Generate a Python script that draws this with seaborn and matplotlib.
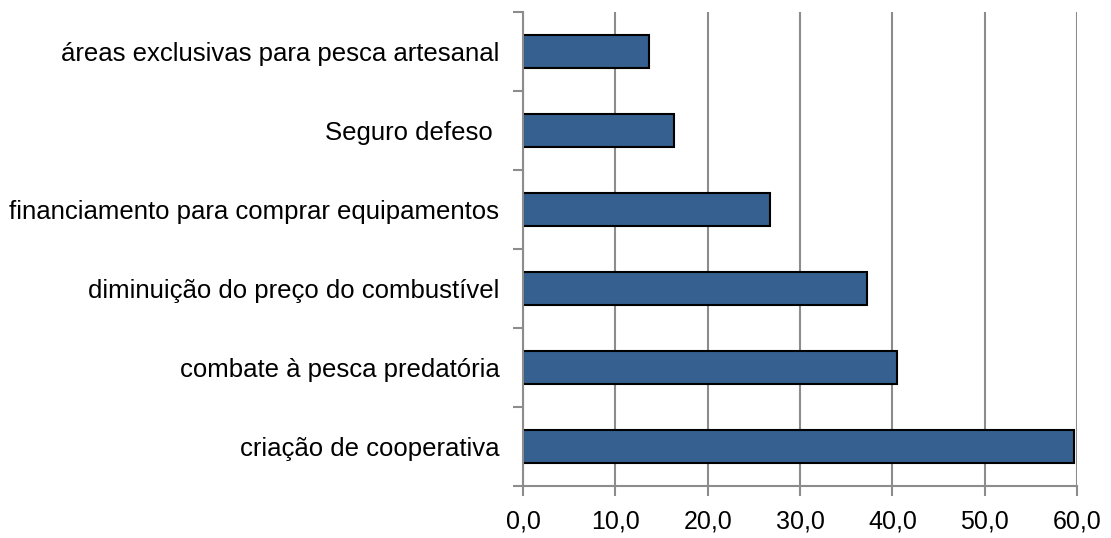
import matplotlib
matplotlib.use("Agg")
import matplotlib.pyplot as plt
import seaborn as sns
import pandas as pd
import numpy as np

categories = [
    "áreas exclusivas para pesca artesanal",
    "Seguro defeso ",
    "financiamento para comprar equipamentos",
    "diminuição do preço do combustível",
    "combate à pesca predatória",
    "criação de cooperativa",
]
values = [13.7, 16.4, 26.8, 37.3, 40.5, 59.7]
x_ticks = [0, 10, 20, 30, 40, 50, 60]
x_tick_labels = ["0,0", "10,0", "20,0", "30,0", "40,0", "50,0", "60,0"]

sns.set_style("white")
plt.rcParams["font.family"] = ["Liberation Sans", "DejaVu Sans"]

df = pd.DataFrame({"categoria": categories, "valor": values})

fig = plt.figure(figsize=(11.11, 5.38), dpi=100)
ax = fig.add_axes([523 / 1111, 1 - 486 / 538, 554 / 1111, 474 / 538])

sns.barplot(
    data=df, x="valor", y="categoria", orient="h", color="#36608f",
    saturation=1, width=0.43, edgecolor="black", linewidth=1.5, ax=ax,
)

ax.set_xlim(0, 60)
ax.set_ylim(len(categories) - 0.5, -0.5)
ax.set_xticks(x_ticks)
ax.set_xticklabels(x_tick_labels, fontsize=18, color="black")
ax.xaxis.grid(True, color="#8c8c8c", linewidth=1.5)
ax.yaxis.grid(False)
ax.set_axisbelow(True)

# labels centered on bars, tick marks on the category boundaries
ax.set_yticks(np.arange(len(categories)))
ax.set_yticklabels(categories, fontsize=18.5, color="black")
ax.set_yticks(np.arange(len(categories) + 1) - 0.5, minor=True)
ax.tick_params(axis="y", which="major", length=0, pad=17)
ax.tick_params(axis="y", which="minor", length=7, width=1.5, color="#8c8c8c", left=True)
ax.tick_params(axis="x", length=7, width=1.5, color="#8c8c8c", pad=10, bottom=True)

for side in ["top", "right"]:
    ax.spines[side].set_visible(False)
for side in ["left", "bottom"]:
    ax.spines[side].set_color("#8c8c8c")
    ax.spines[side].set_linewidth(1.5)

ax.set_xlabel("")
ax.set_ylabel("")

fig.savefig("out.png", dpi=100)
